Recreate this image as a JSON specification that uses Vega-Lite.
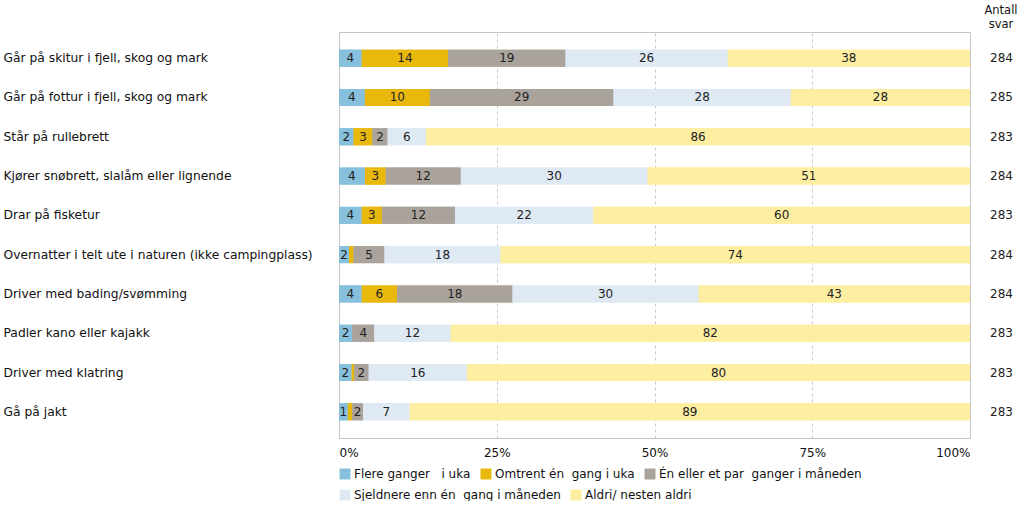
{
  "$schema": "https://vega.github.io/schema/vega-lite/v6.json",
  "width": 631,
  "height": 406,
  "padding": {"left": 3, "top": 4, "right": 0, "bottom": 0},
  "background": "white",
  "config": {
    "font": "DejaVu Sans",
    "view": {"stroke": "#c4c4c4", "strokeWidth": 1},
    "legend": {
      "layout": {"bottom": {"direction": "vertical", "anchor": "start", "margin": 9}}
    }
  },
  "title": {
    "text": ["Antall", "svar"],
    "anchor": "end",
    "frame": "group",
    "align": "center",
    "dx": 31,
    "fontSize": 11.5,
    "fontWeight": "normal",
    "color": "#111",
    "lineHeight": 14,
    "offset": 2
  },
  "datasets": {
    "shares": [
      {"cat": "Går på skitur i fjell, skog og mark", "resp": "Flere ganger\u00a0\u00a0 i uka", "k": 1, "v": 3.6},
      {"cat": "Går på skitur i fjell, skog og mark", "resp": "Omtrent én\u00a0 gang i uka", "k": 2, "v": 13.7},
      {"cat": "Går på skitur i fjell, skog og mark", "resp": "Én eller et par\u00a0 ganger i måneden", "k": 3, "v": 18.6},
      {"cat": "Går på skitur i fjell, skog og mark", "resp": "Sjeldnere enn én\u00a0 gang i måneden", "k": 4, "v": 25.7},
      {"cat": "Går på skitur i fjell, skog og mark", "resp": "Aldri/ nesten aldri", "k": 5, "v": 38.4},
      {"cat": "Går på fottur i fjell, skog og mark", "resp": "Flere ganger\u00a0\u00a0 i uka", "k": 1, "v": 4.1},
      {"cat": "Går på fottur i fjell, skog og mark", "resp": "Omtrent én\u00a0 gang i uka", "k": 2, "v": 10.3},
      {"cat": "Går på fottur i fjell, skog og mark", "resp": "Én eller et par\u00a0 ganger i måneden", "k": 3, "v": 29.1},
      {"cat": "Går på fottur i fjell, skog og mark", "resp": "Sjeldnere enn én\u00a0 gang i måneden", "k": 4, "v": 28.1},
      {"cat": "Går på fottur i fjell, skog og mark", "resp": "Aldri/ nesten aldri", "k": 5, "v": 28.4},
      {"cat": "Står på rullebrett", "resp": "Flere ganger\u00a0\u00a0 i uka", "k": 1, "v": 2.3},
      {"cat": "Står på rullebrett", "resp": "Omtrent én\u00a0 gang i uka", "k": 2, "v": 3.0},
      {"cat": "Står på rullebrett", "resp": "Én eller et par\u00a0 ganger i måneden", "k": 3, "v": 2.4},
      {"cat": "Står på rullebrett", "resp": "Sjeldnere enn én\u00a0 gang i måneden", "k": 4, "v": 6.1},
      {"cat": "Står på rullebrett", "resp": "Aldri/ nesten aldri", "k": 5, "v": 86.2},
      {"cat": "Kjører snøbrett, slalåm eller lignende", "resp": "Flere ganger\u00a0\u00a0 i uka", "k": 1, "v": 4.1},
      {"cat": "Kjører snøbrett, slalåm eller lignende", "resp": "Omtrent én\u00a0 gang i uka", "k": 2, "v": 3.3},
      {"cat": "Kjører snøbrett, slalåm eller lignende", "resp": "Én eller et par\u00a0 ganger i måneden", "k": 3, "v": 11.9},
      {"cat": "Kjører snøbrett, slalåm eller lignende", "resp": "Sjeldnere enn én\u00a0 gang i måneden", "k": 4, "v": 29.6},
      {"cat": "Kjører snøbrett, slalåm eller lignende", "resp": "Aldri/ nesten aldri", "k": 5, "v": 51.1},
      {"cat": "Drar på fisketur", "resp": "Flere ganger\u00a0\u00a0 i uka", "k": 1, "v": 3.6},
      {"cat": "Drar på fisketur", "resp": "Omtrent én\u00a0 gang i uka", "k": 2, "v": 3.2},
      {"cat": "Drar på fisketur", "resp": "Én eller et par\u00a0 ganger i måneden", "k": 3, "v": 11.6},
      {"cat": "Drar på fisketur", "resp": "Sjeldnere enn én\u00a0 gang i måneden", "k": 4, "v": 21.9},
      {"cat": "Drar på fisketur", "resp": "Aldri/ nesten aldri", "k": 5, "v": 59.7},
      {"cat": "Overnatter i telt ute i naturen (ikke campingplass)", "resp": "Flere ganger\u00a0\u00a0 i uka", "k": 1, "v": 1.6},
      {"cat": "Overnatter i telt ute i naturen (ikke campingplass)", "resp": "Omtrent én\u00a0 gang i uka", "k": 2, "v": 0.7},
      {"cat": "Overnatter i telt ute i naturen (ikke campingplass)", "resp": "Én eller et par\u00a0 ganger i måneden", "k": 3, "v": 4.9},
      {"cat": "Overnatter i telt ute i naturen (ikke campingplass)", "resp": "Sjeldnere enn én\u00a0 gang i måneden", "k": 4, "v": 18.4},
      {"cat": "Overnatter i telt ute i naturen (ikke campingplass)", "resp": "Aldri/ nesten aldri", "k": 5, "v": 74.4},
      {"cat": "Driver med bading/svømming", "resp": "Flere ganger\u00a0\u00a0 i uka", "k": 1, "v": 3.6},
      {"cat": "Driver med bading/svømming", "resp": "Omtrent én\u00a0 gang i uka", "k": 2, "v": 5.6},
      {"cat": "Driver med bading/svømming", "resp": "Én eller et par\u00a0 ganger i måneden", "k": 3, "v": 18.3},
      {"cat": "Driver med bading/svømming", "resp": "Sjeldnere enn én\u00a0 gang i måneden", "k": 4, "v": 29.5},
      {"cat": "Driver med bading/svømming", "resp": "Aldri/ nesten aldri", "k": 5, "v": 43.0},
      {"cat": "Padler kano eller kajakk", "resp": "Flere ganger\u00a0\u00a0 i uka", "k": 1, "v": 2.1},
      {"cat": "Padler kano eller kajakk", "resp": "Omtrent én\u00a0 gang i uka", "k": 2, "v": 0.0},
      {"cat": "Padler kano eller kajakk", "resp": "Én eller et par\u00a0 ganger i måneden", "k": 3, "v": 3.5},
      {"cat": "Padler kano eller kajakk", "resp": "Sjeldnere enn én\u00a0 gang i måneden", "k": 4, "v": 12.1},
      {"cat": "Padler kano eller kajakk", "resp": "Aldri/ nesten aldri", "k": 5, "v": 82.3},
      {"cat": "Driver med klatring", "resp": "Flere ganger\u00a0\u00a0 i uka", "k": 1, "v": 2.0},
      {"cat": "Driver med klatring", "resp": "Omtrent én\u00a0 gang i uka", "k": 2, "v": 0.4},
      {"cat": "Driver med klatring", "resp": "Én eller et par\u00a0 ganger i måneden", "k": 3, "v": 2.3},
      {"cat": "Driver med klatring", "resp": "Sjeldnere enn én\u00a0 gang i måneden", "k": 4, "v": 15.6},
      {"cat": "Driver med klatring", "resp": "Aldri/ nesten aldri", "k": 5, "v": 79.7},
      {"cat": "Gå på jakt", "resp": "Flere ganger\u00a0\u00a0 i uka", "k": 1, "v": 1.4},
      {"cat": "Gå på jakt", "resp": "Omtrent én\u00a0 gang i uka", "k": 2, "v": 0.7},
      {"cat": "Gå på jakt", "resp": "Én eller et par\u00a0 ganger i måneden", "k": 3, "v": 1.7},
      {"cat": "Gå på jakt", "resp": "Sjeldnere enn én\u00a0 gang i måneden", "k": 4, "v": 7.4},
      {"cat": "Gå på jakt", "resp": "Aldri/ nesten aldri", "k": 5, "v": 88.8}
    ],
    "counts": [
      {"cat": "Går på skitur i fjell, skog og mark", "n": 284},
      {"cat": "Går på fottur i fjell, skog og mark", "n": 285},
      {"cat": "Står på rullebrett", "n": 283},
      {"cat": "Kjører snøbrett, slalåm eller lignende", "n": 284},
      {"cat": "Drar på fisketur", "n": 283},
      {"cat": "Overnatter i telt ute i naturen (ikke campingplass)", "n": 284},
      {"cat": "Driver med bading/svømming", "n": 284},
      {"cat": "Padler kano eller kajakk", "n": 283},
      {"cat": "Driver med klatring", "n": 283},
      {"cat": "Gå på jakt", "n": 283}
    ]
  },
  "encoding": {
    "y": {
      "field": "cat",
      "type": "nominal",
      "sort": null,
      "scale": {"paddingInner": 0.567, "paddingOuter": 0.45},
      "axis": {
        "title": null,
        "orient": "left",
        "labelAlign": "left",
        "labelPadding": 336,
        "labelLimit": 334,
        "ticks": false,
        "domain": false,
        "labelFontSize": 12.3,
        "labelColor": "#111",
        "labelBaseline": "middle"
      }
    }
  },
  "layer": [
    {
      "data": {"name": "shares"},
      "mark": {"type": "bar"},
      "encoding": {
        "x": {
          "field": "v",
          "type": "quantitative",
          "stack": "normalize",
          "scale": {"domain": [0, 1], "nice": false},
          "axis": {
            "title": null,
            "values": [0, 0.25, 0.5, 0.75, 1],
            "format": ".0%",
            "labelFlush": true,
            "ticks": false,
            "domain": false,
            "grid": true,
            "gridDash": [3, 3],
            "gridColor": "#c8c8c8",
            "labelPadding": 9,
            "labelFontSize": 12,
            "labelColor": "#111"
          }
        },
        "color": {
          "field": "resp",
          "type": "nominal",
          "sort": ["Flere ganger\u00a0\u00a0 i uka", "Omtrent én\u00a0 gang i uka", "Én eller et par\u00a0 ganger i måneden", "Sjeldnere enn én\u00a0 gang i måneden", "Aldri/ nesten aldri"],
          "scale": {
            "domain": ["Flere ganger\u00a0\u00a0 i uka", "Omtrent én\u00a0 gang i uka", "Én eller et par\u00a0 ganger i måneden", "Sjeldnere enn én\u00a0 gang i måneden", "Aldri/ nesten aldri"],
            "range": ["#86c0dc", "#e8b80c", "#aaa39c", "#dee9f4", "#fdeea2"]
          },
          "legend": {
            "title": null,
            "orient": "bottom",
            "direction": "horizontal",
            "values": ["Flere ganger\u00a0\u00a0 i uka", "Omtrent én\u00a0 gang i uka", "Én eller et par\u00a0 ganger i måneden"],
            "symbolType": "square",
            "symbolSize": 120,
            "symbolStrokeWidth": 0,
            "labelFontSize": 12,
            "labelLimit": 400,
            "labelColor": "#111",
            "columnPadding": 9,
            "offset": 10,
            "labelOffset": 3
          }
        },
        "order": {"field": "k"}
      }
    },
    {
      "data": {"name": "shares"},
      "mark": {"type": "bar"},
      "encoding": {
        "x": {"field": "v", "type": "quantitative", "stack": "normalize"},
        "fill": {
          "field": "resp",
          "type": "nominal",
          "scale": {
            "domain": ["Sjeldnere enn én\u00a0 gang i måneden", "Aldri/ nesten aldri", "Flere ganger\u00a0\u00a0 i uka", "Omtrent én\u00a0 gang i uka", "Én eller et par\u00a0 ganger i måneden"],
            "range": ["#dee9f4", "#fdeea2", "#86c0dc", "#e8b80c", "#aaa39c"]
          },
          "legend": {
            "title": null,
            "orient": "bottom",
            "direction": "horizontal",
            "values": ["Sjeldnere enn én\u00a0 gang i måneden", "Aldri/ nesten aldri"],
            "symbolType": "square",
            "symbolSize": 120,
            "symbolStrokeWidth": 0,
            "labelFontSize": 12,
            "labelLimit": 400,
            "labelColor": "#111",
            "columnPadding": 9,
            "offset": 10,
            "labelOffset": 3
          }
        },
        "order": {"field": "k"}
      }
    },
    {
      "data": {"name": "shares"},
      "mark": {"type": "text", "fontSize": 12, "color": "#222", "baseline": "middle"},
      "encoding": {
        "x": {"field": "v", "type": "quantitative", "stack": "normalize", "bandPosition": 0.5},
        "order": {"field": "k"},
        "text": {
          "condition": {"test": "datum.v >= 1", "field": "v", "format": ".0f"},
          "value": ""
        }
      }
    },
    {
      "data": {"name": "counts"},
      "mark": {"type": "text", "fontSize": 12, "color": "#222", "baseline": "middle"},
      "encoding": {
        "x": {"datum": 1.05, "type": "quantitative"},
        "text": {"field": "n", "type": "quantitative"}
      }
    }
  ]
}
